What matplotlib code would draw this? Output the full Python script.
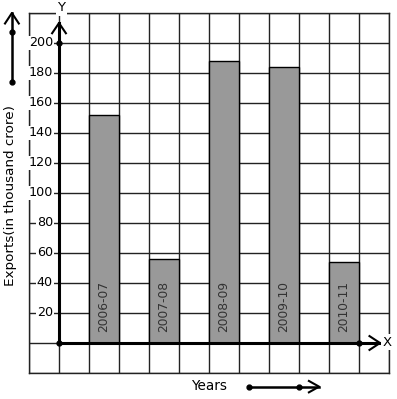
import matplotlib
matplotlib.use("Agg")
import matplotlib.pyplot as plt

years = ["2006-07", "2007-08", "2008-09", "2009-10", "2010-11"]
exports = [152, 56, 188, 184, 54]
bar_pos = [1.5, 3.5, 5.5, 7.5, 9.5]
ytick_vals = [20, 40, 60, 80, 100, 120, 140, 160, 180, 200]

fig = plt.figure(figsize=(3.97, 3.99), dpi=100)
ax = fig.add_axes([29/397, 26/399, 360/397, 360/399])
ax.set_xlim(-1, 11)
ax.set_ylim(-20, 220)
ax.set_xticks(range(-1, 12))
ax.set_yticks(range(-20, 221, 20))
ax.grid(True, color="#222222", linewidth=1.0, zorder=0)
ax.set_axisbelow(True)
ax.tick_params(length=0, labelleft=False, labelbottom=False)
for s in ax.spines.values():
    s.set_color("#222222")
    s.set_linewidth(1.0)

ax.bar(bar_pos, exports, width=1.0, color="#999999", edgecolor="black",
       linewidth=1.0, zorder=2)
for x, lab in zip(bar_pos, years):
    ax.text(x, 7, lab, rotation=90, ha="center", va="bottom", fontsize=8.8,
            color="#333333", zorder=3)

# axes lines
ax.plot([0, 0], [0, 213.3], color="black", lw=2.2, zorder=4, clip_on=False)
ax.plot([0, 10.7], [0, 0], color="black", lw=2.2, zorder=4, clip_on=False)
# arrow heads
ax.plot([-0.23, 0, 0.23], [206.5, 213.3, 206.5], color="black", lw=1.5, zorder=4, clip_on=False)
ax.plot([10.35, 10.7, 10.35], [4.6, 0, -4.6], color="black", lw=1.5, zorder=4, clip_on=False)
ax.plot([0, 0, 10], [0, 200, 0], "o", color="black", ms=3.5, zorder=5, clip_on=False)

ax.text(0.07, 223.5, "Y", ha="center", va="center", fontsize=9.5, zorder=6,
        bbox=dict(facecolor="white", edgecolor="none", pad=1), clip_on=False)
ax.text(10.95, 0.5, "X", ha="center", va="center", fontsize=9.5, zorder=6,
        bbox=dict(facecolor="white", edgecolor="none", pad=1), clip_on=False)

for v in ytick_vals:
    ax.text(-0.2, v, str(v), ha="right", va="center", fontsize=9.2, zorder=6,
            bbox=dict(facecolor="white", edgecolor="none", pad=0.6))

# left arrow
ax.plot([-1.57, -1.57], [174, 220], color="black", lw=1.8, clip_on=False)
ax.plot([-1.8, -1.57, -1.34], [213, 220, 213], color="black", lw=1.5, clip_on=False)
ax.plot([-1.57, -1.57], [174, 207.3], "o", color="black", ms=3.5, clip_on=False)
ax.text(-1.6, 98, "Exports(in thousand crore)", rotation=90, ha="center",
        va="center", fontsize=9.7)

# bottom arrow
ax.plot([6.33, 8.67], [-29.1, -29.1], color="black", lw=1.8, clip_on=False)
ax.plot([8.33, 8.67, 8.33], [-25.3, -29.1, -32.9], color="black", lw=1.5, clip_on=False)
ax.plot([6.33, 8.0], [-29.1, -29.1], "o", color="black", ms=3.5, clip_on=False)
ax.text(5.0, -28.5, "Years", ha="center", va="center", fontsize=9.8)

fig.savefig("out.png", dpi=100)
